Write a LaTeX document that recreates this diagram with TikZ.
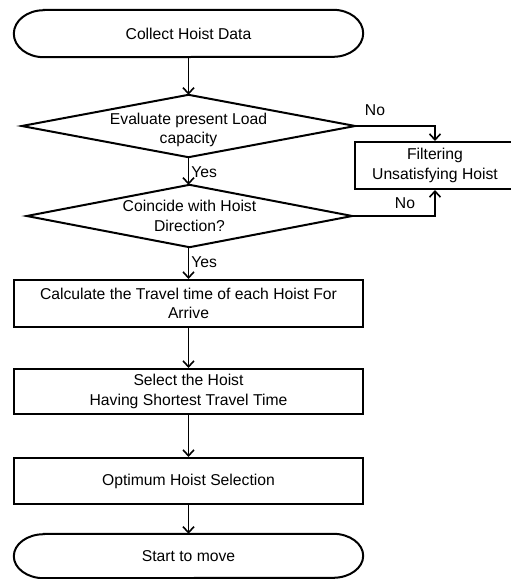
\documentclass[tikz,border=0pt]{standalone}
\usepackage{fontspec}
\setmainfont{Liberation Sans}
\usetikzlibrary{arrows.meta}
\begin{document}
\begin{tikzpicture}[x=1pt,y=-1pt,
  every node/.style={font=\fontsize{15.7}{19.5}\selectfont, align=center, inner sep=0pt},
  procbox/.style={draw, line width=2pt, minimum width=#1},
  termnode/.style={minimum width=349, minimum height=45},
  decnode/.style={minimum height=62},
  outline/.style={line width=2pt},
  conn/.style={line width=1.6pt, -{Straight Barb[length=6pt,width=11pt,line width=1.6pt]}},
  lbl/.style={font=\fontsize{15.7}{18}\selectfont}
]
\useasboundingbox (0,0) rectangle (511,579);

% nodes
\node[termnode, minimum height=47] (t1) at (188.5,33.5) {Collect Hoist Data};
\node[decnode, minimum width=333] (d1) at (188.5,126) {\rule{0pt}{19pt}Evaluate present Load\\capacity};
\node[decnode, minimum width=325] (d2) at (189.5,216) {Coincide with Hoist\\Direction?};
\node[procbox=160, minimum height=47] (f) at (435,165.5) {Filtering\\Unsatisfying Hoist};
\node[procbox=349, minimum height=47] (c) at (188.5,303.5) {Calculate the Travel time of each Hoist For\\Arrive};
\node[procbox=349, minimum height=45] (s) at (188.5,391.5) {Select the Hoist\\Having Shortest Travel Time};
\node[procbox=349, minimum height=46] (o) at (188.5,481) {Optimum Hoist Selection};
\node[termnode, minimum height=44] (t2) at (188.5,556) {Start to move};

% terminal outlines (y axis points down: angles are mirrored)
\draw[outline] ([xshift=30]t1.north west) -- ([xshift=-30]t1.north east)
  arc[start angle=-90, end angle=90, x radius=30, y radius=23.5]
  -- ([xshift=30]t1.south west)
  arc[start angle=90, end angle=270, x radius=30, y radius=23.5] -- cycle;
\draw[outline] ([xshift=30]t2.north west) -- ([xshift=-30]t2.north east)
  arc[start angle=-90, end angle=90, x radius=30, y radius=22]
  -- ([xshift=30]t2.south west)
  arc[start angle=90, end angle=270, x radius=30, y radius=22] -- cycle;

% diamond outlines
\draw[outline] (d1.north) -- (d1.east) -- (d1.south) -- (d1.west) -- cycle;
\draw[outline] (d2.north) -- (d2.east) -- (d2.south) -- (d2.west) -- cycle;

% connectors
\draw[conn] (t1.south) -- (d1.north);
\draw[conn] (d1.south) -- node[lbl, right=2pt, pos=0.55] {Yes} (d2.north -| d1.south);
\draw[conn] (d2.south -| c.north) -- node[lbl, right=2pt, pos=0.48] {Yes} (c.north);
\draw[conn] (c.south) -- (s.north);
\draw[conn] (s.south) -- (o.north);
\draw[conn] (o.south) -- (t2.north);
\draw[conn] (d1.east) -| (f.north);
\draw[conn] (d2.east) -| (f.south);

% No labels
\node[lbl] (n1) at (375,110) {No};
\node[lbl] (n2) at (405,203) {No};
\end{tikzpicture}
\end{document}
